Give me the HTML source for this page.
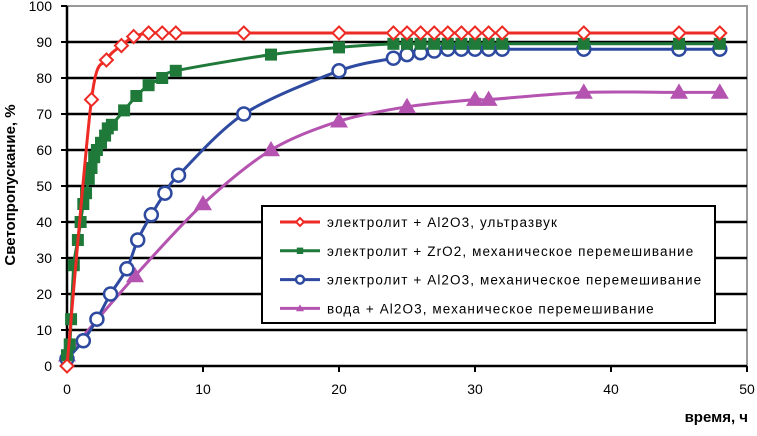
<!DOCTYPE html>
<html><head><meta charset="utf-8"><style>
body{margin:0;background:#fff}
svg text{font-family:"Liberation Sans",sans-serif}
</style></head><body>
<svg id="c" width="757" height="431" xmlns="http://www.w3.org/2000/svg"></svg>
<script>
const xTicks=[0,10,20,30,40,50];
const yTicks=[0,10,20,30,40,50,60,70,80,90,100];
const seriesNames=["электролит + Al2O3, ультразвук","электролит + ZrO2, механическое перемешивание","электролит + Al2O3, механическое перемешивание","вода + Al2O3, механическое перемешивание"];
const redX=[0,1.8,2.9,4,4.9,6,7,8,13,20,24,25,26,27,28,29,30,31,32,38,45,48];
const redY=[0,74,85,89,91.5,92.5,92.5,92.5,92.5,92.5,92.5,92.5,92.5,92.5,92.5,92.5,92.5,92.5,92.5,92.5,92.5,92.5];
const greenX=[0,0.2,0.3,0.5,0.8,1,1.2,1.4,1.6,1.8,2,2.2,2.5,2.8,3,3.3,4.2,5.1,6,7,8,15,20,24,25,26,27,28,29,30,31,32,38,45,48];
const greenY=[3,6,13,28,35,40,45,48,52,55,58,60,62,64,66,67,71,75,78,80,82,86.5,88.5,89.5,89.5,89.5,89.5,89.5,89.5,89.5,89.5,89.5,89.5,89.5,89.5];
const blueX=[0,1.2,2.2,3.2,4.4,5.2,6.2,7.2,8.2,13,20,24,25,26,27,28,29,30,31,32,38,45,48];
const blueY=[2,7,13,20,27,35,42,48,53,70,82,85.5,86.5,87,87.5,88,88,88,88,88,88,88,88];
const magX=[0,5,10,15,20,25,30,31,38,45,48];
const magY=[3,25,45,60,68,72,74,74,76,76,76];

const L=67,R=747,T=6,B=366;
const sx=v=>L+(v/50)*(R-L);
const sy=v=>B-(v/100)*(B-T);
const svg=document.getElementById('c');
const NS='http://www.w3.org/2000/svg';
function mk(tag,attrs,parent){const e=document.createElementNS(NS,tag);for(const k in attrs)e.setAttribute(k,attrs[k]);(parent||svg).appendChild(e);return e;}

const border=mk('rect',{x:L,y:T,width:R-L,height:B-T,fill:'#fff',stroke:'#999','stroke-width':2});


yTicks.forEach(v=>{
  if(v>0&&v<100){const g=mk('line',{x1:L,x2:R,y1:sy(v),y2:sy(v),stroke:'#000','stroke-width':2.5});
  
  }
  const t=mk('text',{x:52,y:sy(v)+5,'text-anchor':'end','font-size':14,fill:'#000'});
  t.textContent=v;
  
  
  mk('line',{x1:L-6,x2:L,y1:sy(v),y2:sy(v),stroke:'#000','stroke-width':2});
});
xTicks.forEach(v=>{
  mk('line',{x1:sx(v),x2:sx(v),y1:B,y2:B+6,stroke:'#000','stroke-width':2});
  const t=mk('text',{x:sx(v),y:394,'text-anchor':'middle','font-size':14,fill:'#000'});
  t.textContent=v;
  
  
});
mk('line',{x1:L,x2:L,y1:T,y2:B+6,stroke:'#000','stroke-width':2.5});
mk('line',{x1:L-6,x2:R,y1:B,y2:B,stroke:'#000','stroke-width':2.5});

function smooth(pts){
  let d='M'+pts[0][0]+','+pts[0][1];
  for(let i=0;i<pts.length-1;i++){
    const p0=pts[Math.max(0,i-1)],p1=pts[i],p2=pts[i+1],p3=pts[Math.min(pts.length-1,i+2)];
    const t=0.15;
    d+=' C'+(p1[0]+(p2[0]-p0[0])*t)+','+(p1[1]+(p2[1]-p0[1])*t)+' '+(p2[0]-(p3[0]-p1[0])*t)+','+(p2[1]-(p3[1]-p1[1])*t)+' '+p2[0]+','+p2[1];
  }
  return d;
}
function marker(type,x,y,color,s,parent){
  if(type==='diamond')return mk('polygon',{points:`${x},${y-s} ${x+s},${y} ${x},${y+s} ${x-s},${y}`,fill:'#fff',stroke:color,'stroke-width':2},parent);
  if(type==='square')return mk('rect',{x:x-s*0.8,y:y-s*0.8,width:s*1.6,height:s*1.6,fill:color},parent);
  if(type==='circle')return mk('circle',{cx:x,cy:y,r:s,fill:'#fff',stroke:color,'stroke-width':2.5},parent);
  return mk('polygon',{points:`${x},${y-s} ${x+s},${y+s*0.7} ${x-s},${y+s*0.7}`,fill:color},parent);
}
const series=[
 {x:magX,y:magY,c:'#b554b0',m:'tri',s:9,n:'series-water-al2o3'},
 {x:blueX,y:blueY,c:'#2e4aa0',m:'circle',s:6.5,n:'series-electrolyte-al2o3-mech'},
 {x:greenX,y:greenY,c:'#1f7a3a',m:'square',s:7.5,n:'series-electrolyte-zro2'},
 {x:redX,y:redY,c:'#ee2a24',m:'diamond',s:6.5,n:'series-electrolyte-al2o3-ultrasound'}
];
series.forEach(S=>{
  const g=mk('g',{});
  
  
  const pts=S.x.map((v,i)=>[sx(v),sy(S.y[i])]);
  mk('path',{d:smooth(pts),fill:'none',stroke:S.c,'stroke-width':3},g);
  pts.forEach(p=>{const m=marker(S.m,p[0],p[1],S.c,S.s,g);
    
    });
});

const lg=mk('g',{});


mk('rect',{x:262,y:206,width:453,height:117,fill:'#fff',stroke:'#000','stroke-width':2},lg);
const legC=['#ee2a24','#1f7a3a','#2e4aa0','#b554b0'],legM=['diamond','square','circle','tri'];
seriesNames.forEach((n,i)=>{
  const y=222+i*28.8;
  const e=mk('g',{},lg);
  
  
  mk('line',{x1:280,x2:320,y1:y,y2:y,stroke:legC[i],'stroke-width':3},e);
  marker(legM[i],300,y,legC[i],4,e);
  const t=mk('text',{x:327,y:y+5,'font-size':13.5,fill:'#000','letter-spacing':'1.1'},e);
  t.textContent=n;
});

const yt=mk('text',{x:0,y:0,'font-size':15,'font-weight':'bold','text-anchor':'middle',transform:'translate(15,185) rotate(-90)'});
yt.textContent='Светопропускание, %';


const xt=mk('text',{x:748,y:422,'font-size':15,'font-weight':'bold','text-anchor':'end'});
xt.textContent='время, ч';


</script>
</body></html>
